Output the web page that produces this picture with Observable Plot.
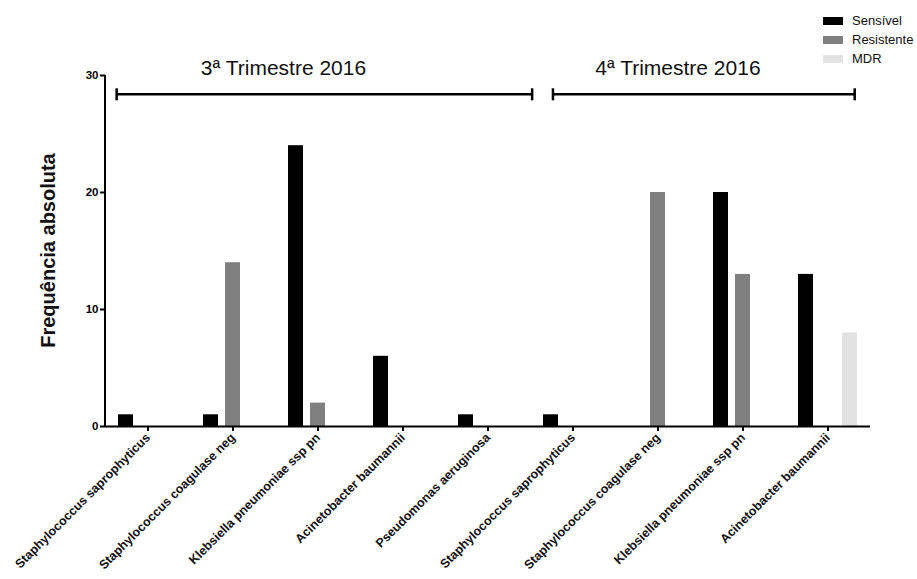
<!DOCTYPE html>
<html><head><meta charset="utf-8">
<script src="https://cdn.jsdelivr.net/npm/d3@7"></script>
<script src="https://cdn.jsdelivr.net/npm/@observablehq/plot@0.6"></script>
<style>
body{margin:0;background:#fff;font-family:"Liberation Sans",Arial,sans-serif;}
#wrap{position:relative;width:917px;height:579px;overflow:hidden;}
.legend{position:absolute;left:823px;top:11px;font-size:13px;color:#111;line-height:19px;}
.legend div{display:flex;align-items:center;height:19px;white-space:nowrap;}
.legend .sw{display:inline-block;width:20px;height:8px;margin-right:9px;}
</style></head><body><div id="wrap"></div>
<script>
const periods = ["3ª Trimestre 2016", "4ª Trimestre 2016"];
const categories = ["Staphylococcus saprophyticus", "Staphylococcus coagulase neg", "Klebsiella pneumoniae ssp pn", "Acinetobacter baumannii", "Pseudomonas aeruginosa", "Staphylococcus saprophyticus", "Staphylococcus coagulase neg", "Klebsiella pneumoniae ssp pn", "Acinetobacter baumannii"];
const series = ["Sensível", "Resistente", "MDR"];
const sensivel = [1, 1, 24, 6, 1, 1, 0, 20, 13];
const resistente = [0, 14, 2, 0, 0, 0, 20, 13, 0];
const mdr = [0, 0, 0, 0, 0, 0, 0, 0, 8];
const yTicks = [0, 10, 20, 30];
const colors = ["#000000", "#808080", "#e2e2e2"];

const keys = categories.map((c, i) => `${i}|${c}`);
const values = [sensivel, resistente, mdr];
const data = [];
keys.forEach((k, i) => series.forEach((s, j) => data.push({key: k, series: s, value: values[j][i]})));

const plot = Plot.plot({
  width: 917, height: 579,
  marginLeft: 104, marginRight: 47, marginTop: 75, marginBottom: 153,
  style: {fontFamily: "Liberation Sans, Arial, sans-serif", fontSize: "12px", color: "#000", background: "#fff"},
  fx: {domain: keys, padding: 0, label: null, tickRotate: -45, tickSize: 5, tickPadding: 4, tickFormat: k => k.split("|")[1]},
  x: {domain: series, paddingInner: 0.326, paddingOuter: 0.513, axis: null},
  y: {domain: [0, 30], ticks: yTicks, tickSize: 5, tickPadding: 2, label: null, line: true},
  color: {domain: series, range: colors},
  marks: [
    Plot.barY(data, {fx: "key", x: "series", y: "value", fill: "series"}),
    Plot.ruleY([0], {strokeWidth: 2})
  ]
});
const wrap = document.getElementById("wrap");
wrap.appendChild(plot);

const svg = d3.select(plot);
svg.selectAll('g[aria-label="fx-axis tick label"], g[aria-label="y-axis tick label"]').attr("font-weight", "bold");
svg.selectAll('g[aria-label="fx-axis tick label"]').attr("font-size", 12.5).attr("fill", "#111");
svg.selectAll('g[aria-label="y-axis tick label"]').attr("font-size", 11.5);
svg.selectAll('g[aria-label="fx-axis tick"], g[aria-label="y-axis tick"]').attr("stroke-width", 2);

const fx = plot.scale("fx"), y = plot.scale("y");
const x0 = fx.apply(keys[0]);
const bw = fx.bandwidth;
const xAt = u => x0 + u * bw;
const ann = svg.append("g").attr("font-family", "Liberation Sans, Arial, sans-serif");

// y-axis line
ann.append("line").attr("x1", x0).attr("x2", x0).attr("y1", y.apply(0) + 1).attr("y2", y.apply(30))
  .attr("stroke", "#000").attr("stroke-width", 2);

// y label
ann.append("text").attr("transform", `translate(55,${(y.apply(0) + y.apply(30)) / 2}) rotate(-90)`)
  .attr("text-anchor", "middle").attr("font-weight", "bold").attr("font-size", 20).attr("fill", "#111").text("Frequência absoluta");

// period brackets
const bracketY = y.apply(28.35);
const spans = [[0.137, 5.025, 2.1], [5.27, 8.82, 6.74]];
spans.forEach(([a, b, c], i) => {
  const g = ann.append("g").attr("stroke", "#000").attr("stroke-width", 2.5);
  g.append("line").attr("x1", xAt(a)).attr("x2", xAt(b)).attr("y1", bracketY).attr("y2", bracketY);
  g.append("line").attr("x1", xAt(a)).attr("x2", xAt(a)).attr("y1", bracketY - 6).attr("y2", bracketY + 6);
  g.append("line").attr("x1", xAt(b)).attr("x2", xAt(b)).attr("y1", bracketY - 6).attr("y2", bracketY + 6);
  ann.append("text").attr("x", xAt(c)).attr("y", y.apply(30)).attr("text-anchor", "middle")
    .attr("font-size", 21).attr("fill", "#111").text(periods[i]);
});

// legend
const lg = document.createElement("div");
lg.className = "legend";
series.forEach((s, i) => {
  const row = document.createElement("div");
  const sw = document.createElement("span");
  sw.className = "sw"; sw.style.background = colors[i];
  row.appendChild(sw);
  row.appendChild(document.createTextNode(s));
  lg.appendChild(row);
});
wrap.appendChild(lg);
</script></body></html>
